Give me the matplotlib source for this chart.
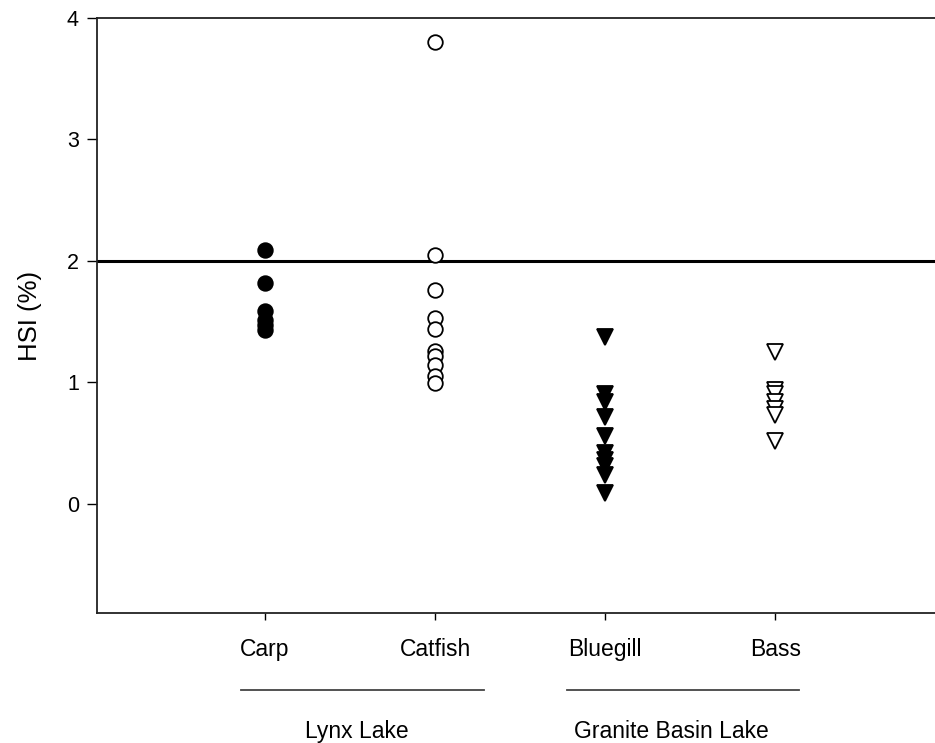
import matplotlib.pyplot as plt

plt.rcParams['font.family'] = ['Liberation Sans', 'DejaVu Sans']

# HSI (%) values per species
carp = [2.09, 1.82, 1.59, 1.51, 1.47, 1.43]
catfish = [3.80, 2.05, 1.76, 1.53, 1.44, 1.26, 1.22, 1.14, 1.05, 0.99]
bluegill = [1.37, 0.90, 0.84, 0.71, 0.56, 0.42, 0.36, 0.31, 0.24, 0.09]
bass = [1.25, 0.94, 0.90, 0.84, 0.78, 0.73, 0.52]

species = ['Carp', 'Catfish', 'Bluegill', 'Bass']
lakes = ['Lynx Lake', 'Granite Basin Lake']
threshold = 2.0


def main():
    fig = plt.figure(figsize=(9.35, 7.43), dpi=100)
    ax = fig.add_axes([0.1037, 0.175, 0.8963, 0.8008])

    # marker styles: filled / open circles and triangles
    styles = [
        dict(marker='o', mfc='black', mec='black', ms=10.5),
        dict(marker='o', mfc='white', mec='black', ms=10.5),
        dict(marker='v', mfc='black', mec='black', ms=11.5),
        dict(marker='v', mfc='white', mec='black', ms=11.5),
    ]
    for i, (vals, st) in enumerate(zip([carp, catfish, bluegill, bass], styles)):
        ax.plot([i + 1] * len(vals), vals, ls='none', mew=1.3, **st)

    ax.axhline(threshold, color='black', lw=2.2, zorder=1)

    ax.set_xlim(0.012, 4.94)
    ax.set_ylim(-0.9, 4.0)
    ax.set_yticks([0, 1, 2, 3, 4])
    ax.set_xticks([1, 2, 3, 4])
    ax.set_xticklabels(species, fontsize=16.5)
    ax.tick_params(axis='y', labelsize=15.5, length=7, width=1, direction='out', pad=6)
    ax.tick_params(axis='x', length=5, width=1, direction='out', pad=13)
    ax.set_ylabel('HSI (%)', fontsize=18.5, labelpad=18)

    ax.spines['right'].set_visible(False)
    for s in ['left', 'top', 'bottom']:
        ax.spines[s].set_linewidth(1.3)
        ax.spines[s].set_color('#222222')

    # lake grouping below the x axis
    tr = ax.get_xaxis_transform()
    ax.plot([0.857, 2.288], [-0.129, -0.129], color='#444444', lw=1.3,
            transform=tr, clip_on=False)
    ax.plot([2.775, 4.139], [-0.129, -0.129], color='#444444', lw=1.3,
            transform=tr, clip_on=False)
    ax.text(1.54, -0.2, lakes[0], transform=tr, ha='center', va='center', fontsize=16.5)
    ax.text(3.39, -0.2, lakes[1], transform=tr, ha='center', va='center', fontsize=16.5)

    fig.savefig('out.png', dpi=100)


if __name__ == '__main__':
    main()
